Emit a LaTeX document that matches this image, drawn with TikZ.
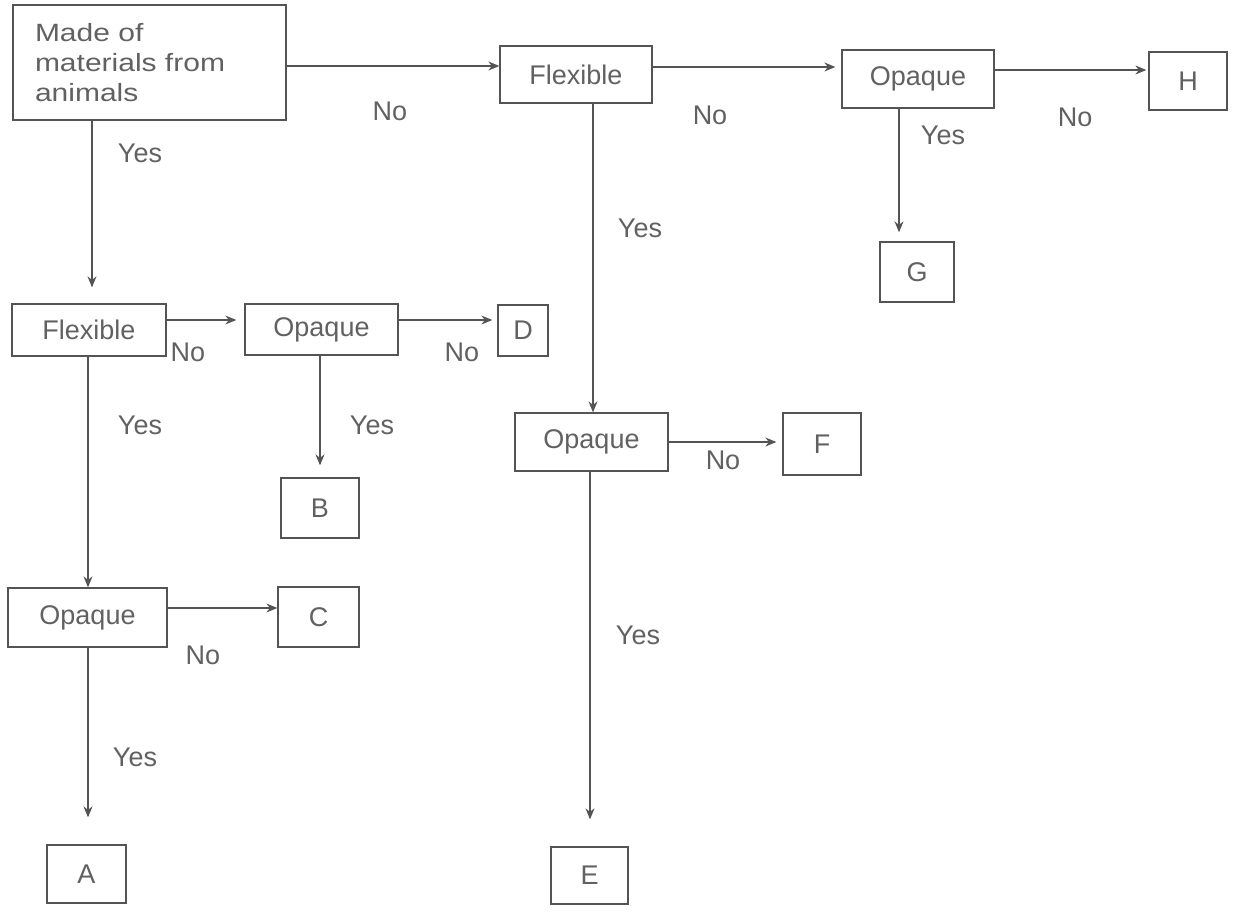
\documentclass[tikz,border=0pt]{standalone}
\usepackage{fontspec}
\setmainfont{Liberation Sans}
\newfontfamily\widesans{Liberation Sans}[FakeStretch=1.2]
\usetikzlibrary{arrows.meta}
\definecolor{linec}{gray}{0.33}
\definecolor{txtc}{gray}{0.38}
\begin{document}
\begin{tikzpicture}[x=1pt,y=-1pt,
  box/.style={draw=linec, line width=1.3pt, inner sep=0pt, text=txtc,
    font=\fontsize{27}{32}\selectfont},
  arr/.style={draw=linec, line width=1.3pt, -{Stealth[length=11pt,width=9pt]}},
  lab/.style={text=txtc, font=\fontsize{27}{32}\selectfont, inner sep=0pt}]
\useasboundingbox (0,0) rectangle (1234,915);

% boxes
\node[box, minimum width=273pt, minimum height=115pt, align=left,
  text width=229pt, font=\widesans\fontsize{25}{30}\selectfont]
  (T) at (149.5,62.5) {Made of\\materials from\\animals};
\node[box, minimum width=152pt, minimum height=57pt] (F1) at (576,74.5) {Flexible};
\node[box, minimum width=152pt, minimum height=58pt] (O1) at (918,79) {Opaque};
\node[box, minimum width=78pt, minimum height=58pt] (H) at (1188,81) {H};
\node[box, minimum width=74pt, minimum height=60pt] (G) at (917,272) {G};
\node[box, minimum width=154pt, minimum height=52pt] (F2) at (89,330) {Flexible};
\node[box, minimum width=153pt, minimum height=51pt] (O2) at (321.5,329.5) {Opaque};
\node[box, minimum width=50pt, minimum height=51pt] (D) at (523,330.5) {D};
\node[box, minimum width=78pt, minimum height=60pt] (B) at (320,508) {B};
\node[box, minimum width=153pt, minimum height=58pt] (O3) at (591.5,442) {Opaque};
\node[box, minimum width=78pt, minimum height=62pt] (F) at (822,444) {F};
\node[box, minimum width=159pt, minimum height=59pt] (O4) at (87.5,617.5) {Opaque};
\node[box, minimum width=81pt, minimum height=60pt] (C) at (318.5,617) {C};
\node[box, minimum width=79pt, minimum height=58pt] (A) at (86.5,874) {A};
\node[box, minimum width=77pt, minimum height=57pt] (E) at (589.5,875.5) {E};

% connectors
\draw[arr] (T.east |- 0,66) -- (F1.west |- 0,66);
\draw[arr, shorten >=6pt] (F1.east |- 0,67) -- (O1.west |- 0,67);
\draw[arr, shorten >=2pt] (O1.east |- 0,70) -- (H.west |- 0,70);
\draw[arr, shorten >=9pt] (O1.south -| 899,0) -- (G.north -| 899,0);
\draw[arr, shorten >=16pt] (T.south -| 92,0) -- (F2.north -| 92,0);
\draw[arr] (F1.south -| 593,0) -- (O3.north -| 593,0);
\draw[arr, shorten >=8pt] (F2.east |- 0,320) -- (O2.west |- 0,320);
\draw[arr, shorten >=5pt] (O2.east |- 0,320) -- (D.west |- 0,320);
\draw[arr, shorten >=12pt] (O2.south -| 320,0) -- (B.north -| 320,0);
\draw[arr] (F2.south -| 88,0) -- (O4.north -| 88,0);
\draw[arr, shorten >=6pt] (O3.east |- 0,442) -- (F.west |- 0,442);
\draw[arr, shorten >=27pt] (O3.south -| 590,0) -- (E.north -| 590,0);
\draw[arr] (O4.east |- 0,608) -- (C.west |- 0,608);
\draw[arr, shorten >=27pt] (O4.south -| 88,0) -- (A.north -| 88,0);

% labels
\node[lab] (l1) at (390,111) {No};
\node[lab] (l2) at (710,115) {No};
\node[lab] (l3) at (1075,117) {No};
\node[lab] (l4) at (943,135) {Yes};
\node[lab] (l5) at (140,153) {Yes};
\node[lab] (l6) at (640,228) {Yes};
\node[lab] (l7) at (188,352) {No};
\node[lab] (l8) at (462,352) {No};
\node[lab] (l9) at (372,425) {Yes};
\node[lab] (l10) at (140,425) {Yes};
\node[lab] (l11) at (723,460) {No};
\node[lab] (l12) at (638,635) {Yes};
\node[lab] (l13) at (203,655) {No};
\node[lab] (l14) at (135,757) {Yes};
\end{tikzpicture}
\end{document}
